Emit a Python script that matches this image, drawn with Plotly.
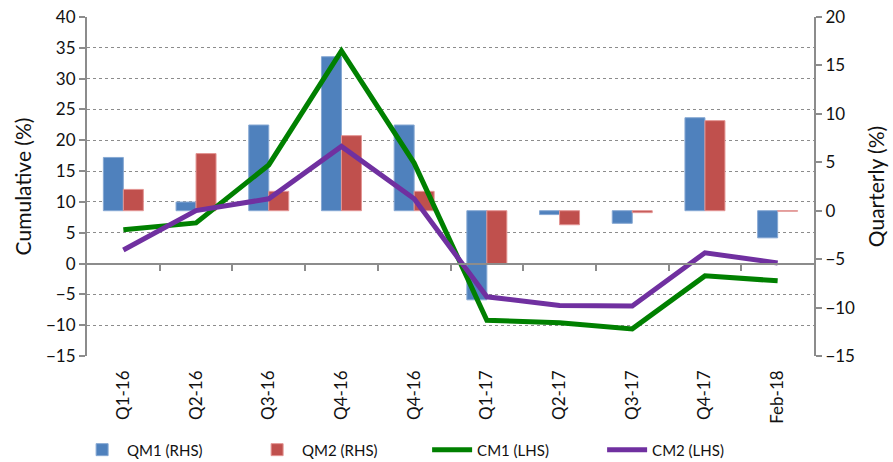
import plotly.graph_objects as go

categories = ["Q1-16", "Q2-16", "Q3-16", "Q4-16", "Q4-16", "Q1-17", "Q2-17", "Q3-17", "Q4-17", "Feb-18"]
qm1 = [5.5, 0.9, 8.85, 15.9, 8.85, -9.2, -0.4, -1.3, 9.6, -2.8]
qm2 = [2.2, 5.9, 2.0, 7.75, 2.0, -5.5, -1.45, -0.2, 9.3, -0.05]
cm1 = [5.5, 6.6, 16.0, 34.5, 16.3, -9.2, -9.6, -10.6, -2.0, -2.8]
cm2 = [2.2, 8.6, 10.5, 19.0, 10.5, -5.4, -6.8, -6.9, 1.75, 0.1]

FONT = "Lato, 'Liberation Sans', sans-serif"
AXIS_GRAY = "#8c8c8c"
TXT = "#111111"
xpos = list(range(len(categories)))

fig = go.Figure()
fig.add_trace(go.Bar(x=xpos, y=qm1, name="QM1 (RHS)", marker=dict(color="#4F81BD", line=dict(color="#86a8d3", width=1)),
                     xaxis="x", yaxis="y"))
fig.add_trace(go.Bar(x=xpos, y=qm2, name="QM2 (RHS)", marker=dict(color="#C0504D", line=dict(color="#e39593", width=1)),
                     xaxis="x", yaxis="y"))
fig.add_trace(go.Scatter(x=xpos, y=cm1, name="CM1 (LHS)", mode="lines", line=dict(color="#008000", width=5),
                         xaxis="x", yaxis="y2"))
fig.add_trace(go.Scatter(x=xpos, y=cm2, name="CM2 (LHS)", mode="lines", line=dict(color="#7030A0", width=5),
                         xaxis="x", yaxis="y2"))
# helper (invisible) trace to carry the zero-line category axis
fig.add_trace(go.Scatter(x=xpos, y=cm1, mode="none", showlegend=False, hoverinfo="skip",
                         xaxis="x2", yaxis="y2"))

fig.update_layout(
    width=893, height=490,
    margin=dict(l=87, r=79, t=17, b=134),
    paper_bgcolor="white", plot_bgcolor="white",
    font=dict(family=FONT, size=15, color=TXT),
    barmode="group", bargap=0.45, bargroupgap=0,
    showlegend=True,
    legend=dict(orientation="h", x=-0.0136, xanchor="left", y=-0.277, yanchor="middle",
                entrywidth=120, entrywidthmode="pixels", font=dict(size=15, family=FONT, color=TXT),
                traceorder="normal", itemwidth=40, bgcolor="rgba(0,0,0,0)"),
    xaxis=dict(range=[-0.5, 9.5], tickmode="array", tickvals=xpos, ticktext=categories,
               tickangle=-90, showline=False, showgrid=False, zeroline=False, ticks="",
               ticklabelstandoff=10, automargin=False, ticklabeloverflow="allow",
               tickfont=dict(size=17, color=TXT), fixedrange=True),
    xaxis2=dict(range=[-0.5, 9.5], overlaying="x", anchor="free", position=15 / 55,
                tickmode="array", tickvals=[i + 0.5 for i in range(len(categories) - 1)],
                showticklabels=False, ticks="outside", ticklen=6, tickcolor=AXIS_GRAY, tickwidth=2,
                showline=True, linecolor=AXIS_GRAY, linewidth=2, showgrid=False, zeroline=False,
                automargin=False),
    yaxis=dict(side="right", range=[-15, 20], tickmode="linear", tick0=-15, dtick=5,
               showgrid=False, zeroline=False, showline=True, linecolor=AXIS_GRAY, linewidth=2,
               ticks="outside", ticklen=6, tickcolor=AXIS_GRAY, tickwidth=2, automargin=False,
               ticklabeloverflow="allow",
               title=dict(text="Quarterly (%)", font=dict(size=21, color=TXT), standoff=15),
               tickfont=dict(size=17, color=TXT)),
    yaxis2=dict(side="left", overlaying="y", range=[-15, 40], tickmode="linear", tick0=-15, dtick=5,
                showgrid=True, gridcolor="#8c8c8c", griddash="dot", gridwidth=1,
                zeroline=False, showline=True, linecolor=AXIS_GRAY, linewidth=2,
                ticks="outside", ticklen=6, tickcolor=AXIS_GRAY, tickwidth=2, automargin=False,
                ticklabeloverflow="allow",
                title=dict(text="Cumulative (%)", font=dict(size=21, color=TXT), standoff=9),
                tickfont=dict(size=17, color=TXT)),
)

# remove the browser's default page margin so the figure sits at the window's corner
fig.write_html("out.html", config={"displayModeBar": False},
               post_script="document.body.style.margin='0';")
